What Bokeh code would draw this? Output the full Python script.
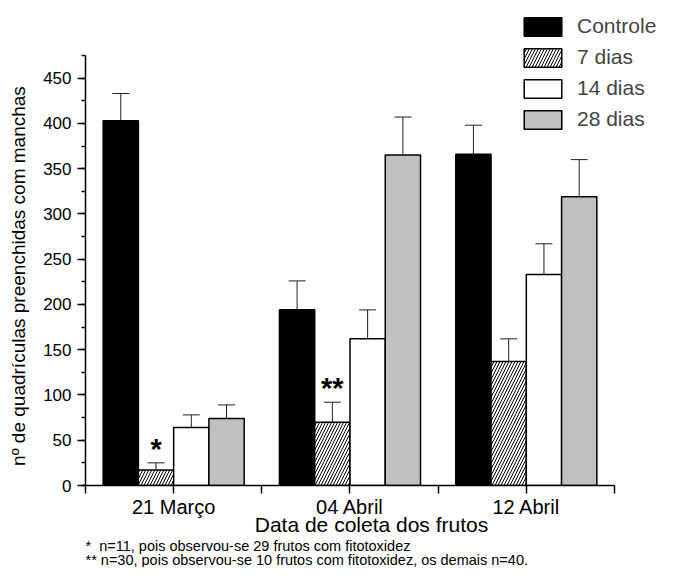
from bokeh.plotting import figure
from bokeh.layouts import column
from bokeh.models import (ColumnDataSource, FixedTicker, SingleIntervalTicker, Whisker,
                          TeeHead, Label, Legend, LegendItem, Range1d)
from bokeh.embed import file_html
from bokeh.resources import INLINE
from bokeh.core.properties import value

# ---------------- data ----------------
dates = ["21 Março", "04 Abril", "12 Abril"]
series = ["Controle", "7 dias", "14 dias", "28 dias"]
controle = [403, 194, 366]
controle_err = [30, 32, 32]
dias7 = [17, 70, 137]
dias7_err = [8, 22, 25]
dias14 = [64, 162, 233]
dias14_err = [14, 32, 34]
dias28 = [74, 365, 319]
dias28_err = [15, 42, 41]
marks_7dias = ["*", "**", ""]
x_title = "Data de coleta dos frutos"
y_title = "nº de quadrículas preenchidas com manchas"
foot_1 = "*\u00a0\u00a0n=11, pois observou-se 29 frutos com fitotoxidez"
foot_2 = "** n=30, pois observou-se 10 frutos com fitotoxidez, os demais n=40."

# ---------------- styling ----------------
FONT = "Liberation Sans"
values_all = [controle, dias7, dias14, dias28]
errs_all = [controle_err, dias7_err, dias14_err, dias28_err]
offsets = [-0.3, -0.1, 0.1, 0.3]
bar_w = 0.2
fills = ["black", "white", "white", "#c0c0c0"]
hatches = [None, "/", None, None]

p = figure(output_backend="svg", toolbar_location=None,
           frame_width=572, frame_height=477,
           min_border_left=85, min_border_right=0,
           min_border_top=8, min_border_bottom=53,
           x_range=Range1d(0.5, 3.744), y_range=Range1d(0, 526.9),
           background_fill_color="white", border_fill_color="white")
p.outline_line_color = None
p.grid.visible = False

renderers = []
for k in range(4):
    xs = [i + 1 + offsets[k] for i in range(len(dates))]
    src = ColumnDataSource(dict(x=xs, top=values_all[k],
                                upper=[v + e for v, e in zip(values_all[k], errs_all[k])]))
    kw = {}
    if hatches[k]:
        kw = dict(hatch_pattern=hatches[k], hatch_scale=6, hatch_weight=1, hatch_color="black")
    r = p.vbar(x="x", top="top", bottom=0, width=bar_w, source=src,
               fill_color=fills[k], line_color="black", line_width=1.5, **kw)
    renderers.append(r)
    w = Whisker(source=src, base="x", upper="upper", lower="top", dimension="height",
                line_color="#222222", line_width=1,
                upper_head=TeeHead(size=17, line_color="#222222", line_width=1),
                lower_head=None)
    p.add_layout(w)

# significance marks above 7 dias bars
msrc = ColumnDataSource(dict(x=[i + 1 + offsets[1] for i in range(len(dates))],
                             y=[v + e for v, e in zip(dias7, dias7_err)],
                             t=marks_7dias))
p.text(x="x", y="y", text="t", source=msrc, text_align="center",
       text_baseline="alphabetic", y_offset=-14,
       text_font=value(FONT), text_font_size="29px", text_font_style="bold",
       text_color="black")

# axes
xa = p.xaxis[0]
xa.ticker = FixedTicker(ticks=[0.5, 1, 1.5, 2, 2.5, 3, 3.5], minor_ticks=[])
xa.major_label_overrides = {0.5: "", 1: dates[0], 1.5: "", 2: dates[1],
                            2.5: "", 3: dates[2], 3.5: ""}
xa.bounds = (0.5, 3.5)
xa.axis_label = x_title
ya = p.yaxis[0]
ya.ticker = SingleIntervalTicker(interval=50, num_minor_ticks=2)
ya.bounds = (0, 475)
# trailing no-break spaces shift the centred label down to the axis' own centre
ya.axis_label = y_title + "\u00a0" * 11

for ax in (xa, ya):
    ax.axis_line_color = "black"
    ax.axis_line_width = 1.5
    ax.major_tick_line_color = "black"
    ax.major_tick_line_width = 1.5
    ax.major_tick_out = 8
    ax.major_tick_in = 0
    ax.minor_tick_line_color = "black"
    ax.minor_tick_line_width = 1.5
    ax.minor_tick_out = 4
    ax.minor_tick_in = 0
    ax.major_label_text_font = FONT
    ax.axis_label_text_font = FONT
    ax.axis_label_text_font_style = "normal"
    ax.major_label_text_color = "black"
    ax.axis_label_text_color = "black"

xa.major_label_text_font_size = "20px"
xa.axis_label_text_font_size = "21px"
xa.major_label_standoff = 2
xa.axis_label_standoff = -8
ya.major_label_text_font_size = "17px"
ya.axis_label_text_font_size = "19px"
ya.major_label_standoff = 6
ya.axis_label_standoff = 11

# legend
items = [LegendItem(label=series[k], renderers=[renderers[k]]) for k in range(4)]
legend = Legend(items=items, location=(434, 354), orientation="vertical",
                glyph_width=47, glyph_height=23, label_height=23,
                spacing=7, padding=0, margin=0, label_standoff=11,
                label_text_font=FONT, label_text_font_size="21px",
                label_text_baseline="middle",
                border_line_color=None, background_fill_alpha=0)
p.add_layout(legend)

# footnotes strip below the chart (its frame lines up with the chart's frame)
p2 = figure(output_backend="svg", toolbar_location=None,
            frame_width=572, frame_height=29,
            min_border_left=85, min_border_right=0,
            min_border_top=0, min_border_bottom=0,
            x_axis_type=None, y_axis_type=None,
            x_range=Range1d(0, 572), y_range=Range1d(0, 29),
            background_fill_color="white", border_fill_color="white")
p2.outline_line_color = None
fkw = dict(x_units="screen", y_units="screen", text_font=FONT, text_font_size="14.5px",
           text_baseline="middle", text_align="left", text_color="black")
p2.add_layout(Label(x=0, y=22, text=foot_1, **fkw))
p2.add_layout(Label(x=0, y=8, text=foot_2, **fkw))

layout = column(p, p2, spacing=0)
open("out.html", "w").write(file_html(layout, INLINE))
